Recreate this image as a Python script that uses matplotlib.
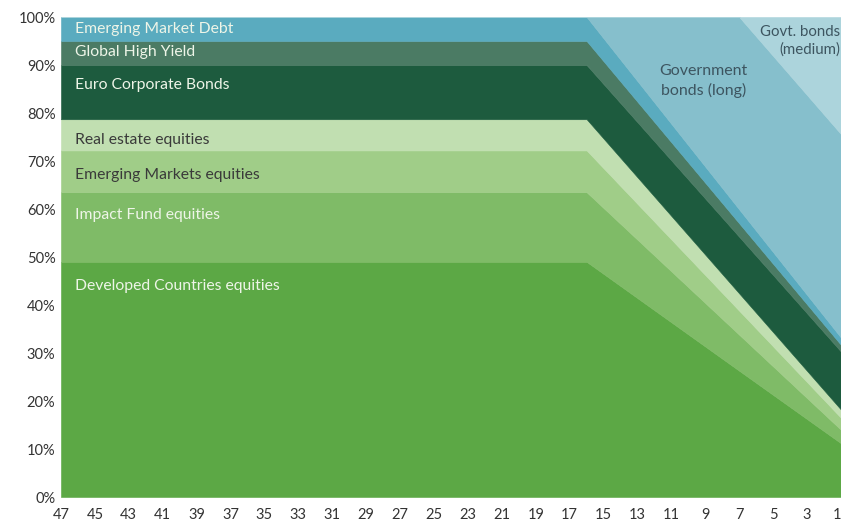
import numpy as np
from matplotlib import pyplot as plt

plt.rcParams['font.family'] = ['Lato', 'DejaVu Sans']

# years to retirement (x axis runs from 47 down to 1)
years = [47, 16, 7, 1]

# allocation in % at each of these years, bottom to top
developed = [49.0, 49.0, 26.3, 11.2]
impact = [14.5, 14.5, 7.5, 2.8]
em_equities = [8.7, 8.7, 5.0, 2.5]
real_estate = [6.5, 6.5, 3.6, 1.7]
euro_corp = [11.3, 11.3, 11.8, 12.1]
high_yield = [5.0, 5.0, 2.8, 1.4]
em_debt = [5.0, 5.0, 2.9, 1.5]
gov_long = [0.0, 0.0, 40.1, 42.4]
gov_medium = [0.0, 0.0, 0.0, 24.4]

layers = [developed, impact, em_equities, real_estate, euro_corp,
          high_yield, em_debt, gov_long, gov_medium]
colors = ['#5ca845', '#7fbb67', '#a0cd88', '#c1dfb1', '#1d5b3e',
          '#4b7b64', '#5aabbf', '#86bfcc', '#acd4dc']

fig = plt.figure(figsize=(8.41, 5.25), dpi=100)
ax = fig.add_axes([0.0725, 0.0533, 0.9275, 0.9143])
polys = ax.stackplot(years, layers, colors=colors)
for p, c in zip(polys, colors):
    p.set_edgecolor(c)
    p.set_linewidth(0.4)

ax.set_xlim(47, 1)
ax.set_ylim(0, 100)
xt = np.arange(47, 0, -2)
ax.set_xticks(xt)
ax.set_yticks(np.arange(0, 101, 10))
ax.set_yticklabels([f'{v}%' for v in range(0, 101, 10)])
ax.tick_params(length=0, labelsize=10.5, colors='#333333')
ax.tick_params(axis='x', pad=8)
ax.tick_params(axis='y', pad=4)
ax.get_xticklabels()[-1].set_ha('right')
for s in ax.spines.values():
    s.set_visible(False)

light = '#eef5e8'
dark = '#3a3a3a'
labels = [
    ('Emerging Market Debt', 97.6, light),
    ('Global High Yield', 92.8, light),
    ('Euro Corporate Bonds', 85.9, light),
    ('Real estate equities', 74.4, dark),
    ('Emerging Markets equities', 67.1, dark),
    ('Impact Fund equities', 58.7, light),
    ('Developed Countries equities', 44.0, light),
]
for txt, y, c in labels:
    ax.text(46.2, y, txt, color=c, fontsize=11.3, va='center', ha='left')

ax.text(9.1, 86.6, 'Government\nbonds (long)', color='#3d5560', fontsize=11.5,
        ha='center', va='center', linespacing=1.4)
ax.text(1.05, 95.0, 'Govt. bonds\n(medium)', color='#3d5560', fontsize=10.8,
        ha='right', va='center', linespacing=1.3)

plt.savefig('out.png', dpi=100)
